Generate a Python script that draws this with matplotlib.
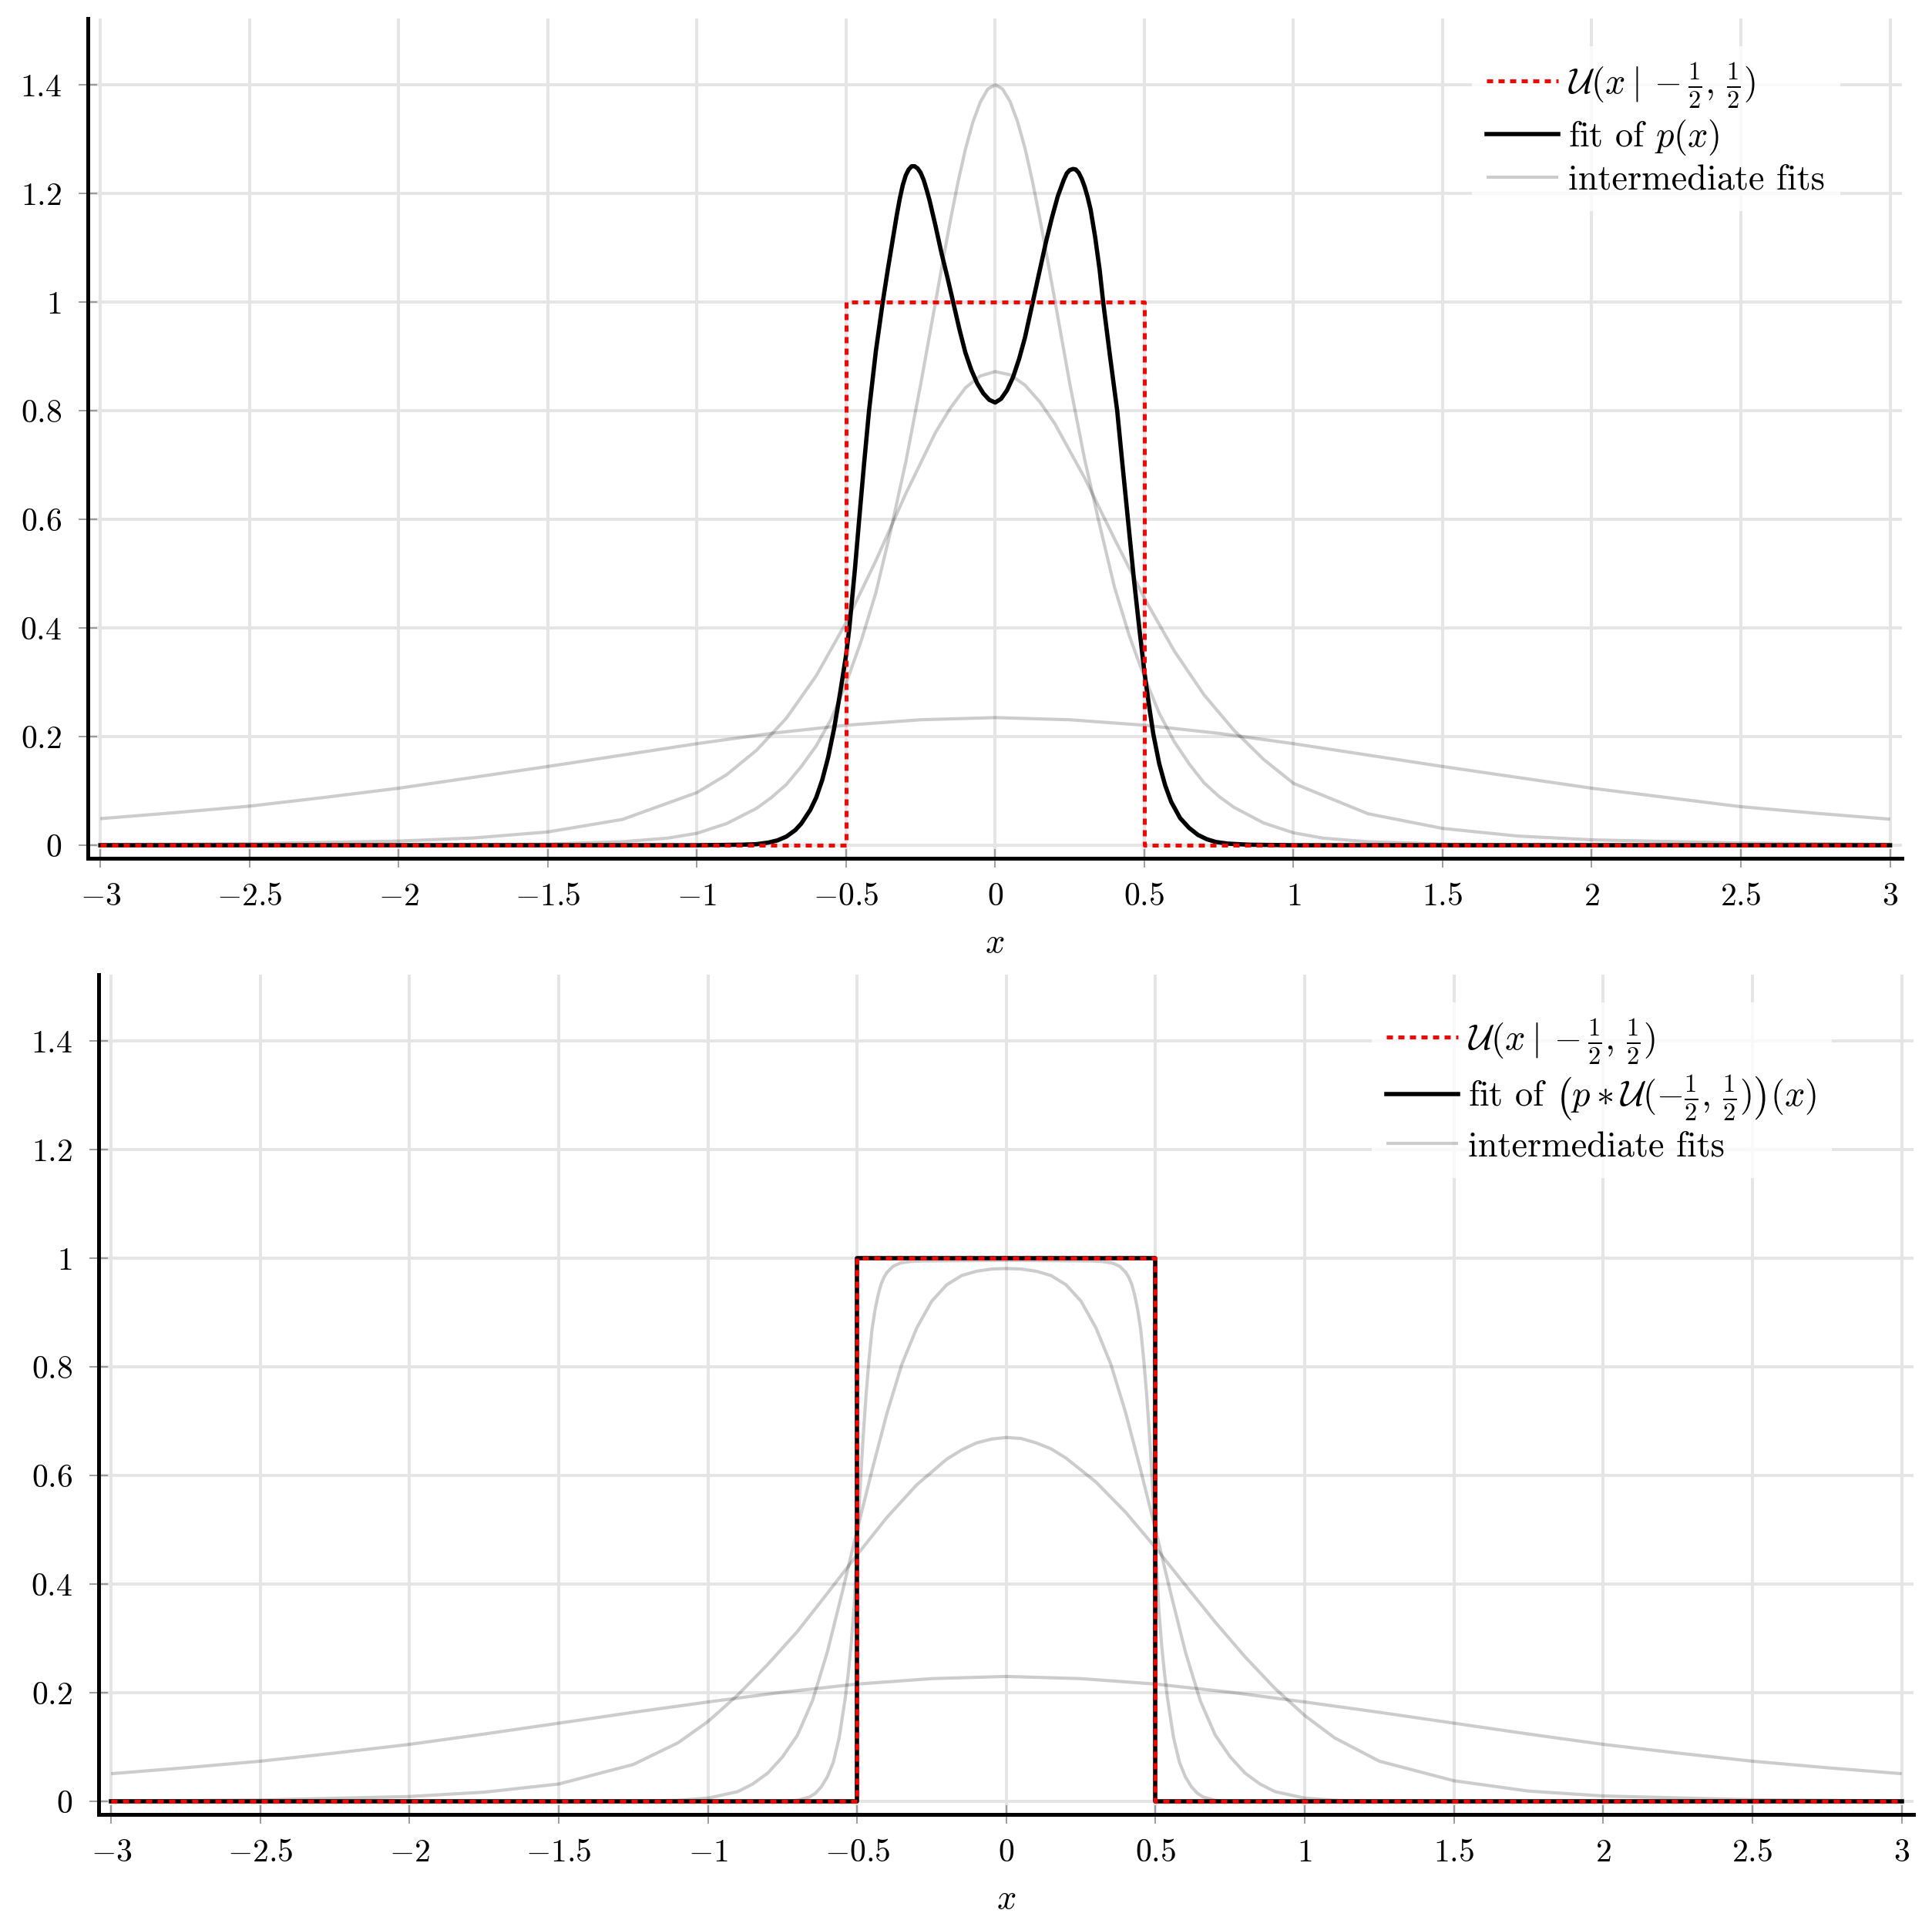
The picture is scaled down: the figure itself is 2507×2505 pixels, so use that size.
import matplotlib
matplotlib.use('Agg')
import matplotlib.pyplot as plt
from matplotlib.ticker import FuncFormatter

plt.rcParams['font.family'] = ['cmr10', 'DejaVu Serif']
plt.rcParams['mathtext.fontset'] = 'cm'
plt.rcParams['axes.unicode_minus'] = False
plt.rcParams['axes.formatter.use_mathtext'] = True

# ---------------- data ----------------
uniform_x = [-3.0, -0.5, -0.5, 0.5, 0.5, 3.0]
uniform_y = [0.0, 0.0, 1.0, 1.0, 0.0, 0.0]

# top panel: fit of p(x)
fit_top_x = [-3.0, -1.5, -1.0, -0.85, -0.8, -0.76, -0.73, -0.70, -0.67, -0.65, -0.62, -0.60,
             -0.58, -0.56, -0.54, -0.52, -0.50, -0.489, -0.47, -0.456, -0.44, -0.423, -0.40,
             -0.377, -0.36, -0.345, -0.33, -0.32, -0.31, -0.30, -0.29, -0.28, -0.27, -0.26,
             -0.25, -0.24, -0.23, -0.22, -0.20, -0.18, -0.16, -0.141, -0.12, -0.10, -0.08,
             -0.06, -0.04, -0.02, 0.0, 0.02, 0.04, 0.06, 0.08, 0.10, 0.126, 0.15, 0.17, 0.19,
             0.21, 0.22, 0.23, 0.24, 0.25, 0.261, 0.27, 0.28, 0.29, 0.30, 0.31, 0.32, 0.335,
             0.35, 0.362, 0.385, 0.409, 0.425, 0.445, 0.465, 0.483, 0.50, 0.515, 0.53, 0.55,
             0.57, 0.59, 0.62, 0.65, 0.68, 0.71, 0.74, 0.78, 0.85, 1.0, 1.5, 3.0]
fit_top_y = [0.0, 0.0, 0.0, 0.001, 0.002, 0.005, 0.009, 0.016, 0.028, 0.040, 0.065, 0.088,
             0.120, 0.162, 0.215, 0.280, 0.350, 0.400, 0.510, 0.600, 0.700, 0.800, 0.910,
             1.0, 1.06, 1.11, 1.16, 1.19, 1.215, 1.233, 1.244, 1.250, 1.250, 1.246,
             1.238, 1.225, 1.207, 1.187, 1.14, 1.09, 1.045, 1.0, 0.95, 0.907, 0.875,
             0.850, 0.832, 0.820, 0.815, 0.822, 0.838, 0.862, 0.895, 0.935, 1.0, 1.06, 1.11, 1.155,
             1.195, 1.21, 1.225, 1.237, 1.243, 1.245, 1.244, 1.238, 1.227, 1.212, 1.193, 1.17, 1.12,
             1.06, 1.0, 0.90, 0.80, 0.71, 0.60, 0.49, 0.40, 0.32, 0.26, 0.205, 0.150,
             0.110, 0.080, 0.050, 0.032, 0.019, 0.011, 0.006, 0.003, 0.001, 0.0, 0.0, 0.0]

# top panel: intermediate fits
inter_top_1_x = [-3.0, -2.75, -2.5, -2.25, -2.0, -1.75, -1.5, -1.25, -1.0, -0.75, -0.5, -0.25, 0.0,
                 0.25, 0.5, 0.75, 1.0, 1.25, 1.5, 1.75, 2.0, 2.25, 2.5, 2.75, 3.0]
inter_top_1_y = [0.049, 0.060, 0.072, 0.088, 0.105, 0.125, 0.145, 0.166, 0.187, 0.206, 0.221, 0.231, 0.235,
                 0.231, 0.221, 0.206, 0.187, 0.166, 0.145, 0.125, 0.105, 0.088, 0.071, 0.059, 0.048]

inter_top_2_x = [-3.0, -2.5, -2.0, -1.75, -1.5, -1.25, -1.0, -0.9, -0.8, -0.7, -0.6, -0.5, -0.4, -0.3,
                 -0.2, -0.15, -0.1, -0.05, 0.0, 0.05, 0.1, 0.15, 0.2, 0.3, 0.4, 0.5, 0.6, 0.7, 0.8,
                 0.9, 1.0, 1.25, 1.5, 1.75, 2.0, 2.5, 3.0]
inter_top_2_y = [0.0013, 0.0029, 0.0077, 0.0134, 0.0245, 0.0475, 0.097, 0.130, 0.175, 0.234, 0.312, 0.41, 0.524, 0.647,
                 0.760, 0.805, 0.842, 0.864, 0.872, 0.866, 0.847, 0.816, 0.776, 0.676, 0.564, 0.455, 0.358, 0.277, 0.212,
                 0.158, 0.114, 0.058, 0.031, 0.017, 0.010, 0.004, 0.0018]

inter_top_3_x = [-3.0, -2.5, -2.0, -1.75, -1.5, -1.25, -1.1, -1.0, -0.9, -0.8, -0.75, -0.7, -0.65, -0.6,
                 -0.55, -0.5, -0.45, -0.4, -0.35, -0.3, -0.25, -0.2, -0.175, -0.15, -0.125, -0.1, -0.075,
                 -0.05, -0.025, 0.0, 0.025, 0.05, 0.075, 0.1, 0.125, 0.15, 0.175, 0.2, 0.25, 0.3, 0.35,
                 0.4, 0.45, 0.5, 0.55, 0.6, 0.65, 0.7, 0.75, 0.8, 0.9, 1.0, 1.1, 1.25, 1.5, 1.75, 2.0, 2.5, 3.0]
inter_top_3_y = [0.0, 0.0001, 0.0005, 0.001, 0.0022, 0.0065, 0.013, 0.022, 0.040, 0.068, 0.088, 0.112, 0.145, 0.183,
                 0.232, 0.298, 0.375, 0.465, 0.580, 0.705, 0.848, 1.0, 1.077, 1.151, 1.220, 1.281, 1.331,
                 1.368, 1.392, 1.400, 1.392, 1.369, 1.332, 1.283, 1.222, 1.153, 1.079, 1.003, 0.850, 0.710, 0.590,
                 0.475, 0.385, 0.310, 0.243, 0.191, 0.150, 0.115, 0.090, 0.070, 0.041, 0.023, 0.013, 0.0065, 0.0022,
                 0.001, 0.0005, 0.0001, 0.0]

# bottom panel: fit of (p * U)(x)
fit_bot_x = [-3.0, -0.5, -0.5, 0.5, 0.5, 3.0]
fit_bot_y = [0.0, 0.0, 1.0, 1.0, 0.0, 0.0]

# bottom panel: intermediate fits
inter_bot_1_x = [-3.0, -2.75, -2.5, -2.25, -2.0, -1.75, -1.5, -1.25, -1.0, -0.75, -0.5, -0.25, 0.0,
                 0.25, 0.5, 0.75, 1.0, 1.25, 1.5, 1.75, 2.0, 2.25, 2.5, 2.75, 3.0]
inter_bot_1_y = [0.051, 0.062, 0.074, 0.089, 0.105, 0.124, 0.144, 0.164, 0.183, 0.201, 0.216, 0.226, 0.230,
                 0.226, 0.216, 0.201, 0.183, 0.164, 0.144, 0.124, 0.105, 0.089, 0.074, 0.062, 0.051]

inter_bot_2_x = [-3.0, -2.5, -2.0, -1.75, -1.5, -1.25, -1.1, -1.0, -0.9, -0.8, -0.7, -0.6, -0.5, -0.4,
                 -0.3, -0.2, -0.15, -0.1, -0.05, 0.0, 0.05, 0.1, 0.15, 0.2, 0.3, 0.4, 0.5, 0.6, 0.7, 0.8,
                 0.9, 1.0, 1.1, 1.25, 1.5, 1.75, 2.0, 2.5, 3.0]
inter_bot_2_y = [0.0008, 0.0025, 0.009, 0.017, 0.032, 0.068, 0.108, 0.147, 0.196, 0.252, 0.313, 0.383, 0.454, 0.523,
                 0.583, 0.630, 0.647, 0.660, 0.667, 0.670, 0.668, 0.660, 0.649, 0.632, 0.588, 0.532, 0.467, 0.398,
                 0.330, 0.266, 0.208, 0.158, 0.117, 0.074, 0.038, 0.019, 0.010, 0.003, 0.001]

inter_bot_3_x = [-3.0, -1.25, -1.1, -1.0, -0.9, -0.85, -0.8, -0.75, -0.7, -0.65, -0.6, -0.55, -0.5, -0.45,
                 -0.4, -0.35, -0.3, -0.25, -0.2, -0.15, -0.1, -0.05, 0.0, 0.05, 0.1, 0.15, 0.2, 0.25, 0.3,
                 0.35, 0.4, 0.45, 0.5, 0.55, 0.6, 0.65, 0.7, 0.75, 0.8, 0.85, 0.9, 1.0, 1.1, 1.25, 3.0]
inter_bot_3_y = [0.0, 0.0005, 0.002, 0.006, 0.018, 0.032, 0.052, 0.082, 0.122, 0.185, 0.275, 0.385, 0.500, 0.610,
                 0.715, 0.805, 0.872, 0.921, 0.951, 0.968, 0.976, 0.980, 0.981, 0.980, 0.976, 0.968, 0.951, 0.921, 0.872,
                 0.805, 0.715, 0.610, 0.500, 0.385, 0.275, 0.185, 0.122, 0.082, 0.052, 0.032, 0.018, 0.006, 0.002, 0.0005, 0.0]

inter_bot_4_x = [-3.0, -0.75, -0.7, -0.66, -0.64, -0.62, -0.6, -0.58, -0.56, -0.54, -0.53, -0.52, -0.51, -0.5,
                 -0.49, -0.48, -0.47, -0.46, -0.45, -0.44, -0.43, -0.42, -0.41, -0.40, -0.38, -0.356, -0.32,
                 -0.28, 0.0, 0.28, 0.32, 0.356, 0.38, 0.40, 0.41, 0.42, 0.43, 0.44, 0.45, 0.46, 0.47, 0.48,
                 0.49, 0.5, 0.51, 0.52, 0.53, 0.54, 0.56, 0.58, 0.6, 0.62, 0.64, 0.66, 0.7, 0.75, 3.0]
inter_bot_4_y = [0.0, 0.0, 0.002, 0.008, 0.015, 0.027, 0.045, 0.072, 0.118, 0.190, 0.235, 0.290, 0.360, 0.470,
                 0.580, 0.670, 0.750, 0.815, 0.870, 0.905, 0.932, 0.952, 0.965, 0.974, 0.985, 0.991, 0.994,
                 0.995, 0.996, 0.995, 0.994, 0.991, 0.985, 0.974, 0.965, 0.952, 0.932, 0.905, 0.870, 0.815, 0.750, 0.670,
                 0.580, 0.470, 0.360, 0.290, 0.235, 0.190, 0.118, 0.072, 0.045, 0.027, 0.015, 0.008, 0.002, 0.0, 0.0]

x_ticks = [-3, -2.5, -2, -1.5, -1, -0.5, 0, 0.5, 1, 1.5, 2, 2.5, 3]
y_ticks = [0, 0.2, 0.4, 0.6, 0.8, 1.0, 1.2, 1.4]

label_uniform = r'$\mathcal{U}(x \mid -\frac{1}{2},\,\frac{1}{2})$'
label_fit_top = r'fit of $p(x)$'
label_fit_bot = r'fit of $\left(p \ast \mathcal{U}(-\frac{1}{2},\,\frac{1}{2})\right)(x)$'
label_inter = 'intermediate fits'

# ---------------- figure ----------------
W, H = 2507, 2505
DPI = 200
fig = plt.figure(figsize=(W / DPI, H / DPI), dpi=DPI)


def px_axes(l, t, r, b):
    return fig.add_axes([l / W, 1 - b / H, (r - l) / W, (b - t) / H])


def fmt(v, pos):
    v = round(v, 6)
    if v == 0:
        v = 0.0
    return r'$%g$' % v


def style(ax):
    ax.set_xlim(-3.042, 3.040)
    ax.set_ylim(-0.024, 1.522)
    ax.set_xticks(x_ticks)
    ax.set_yticks(y_ticks)
    ax.xaxis.set_major_formatter(FuncFormatter(fmt))
    ax.yaxis.set_major_formatter(FuncFormatter(fmt))
    ax.tick_params(direction='inout', length=8.5, width=0.6, color='#8c8c8c',
                   labelsize=15, labelcolor='black')
    ax.tick_params(axis='x', pad=7)
    ax.tick_params(axis='y', pad=8)
    for s in ('top', 'right'):
        ax.spines[s].set_visible(False)
    for s in ('left', 'bottom'):
        ax.spines[s].set_linewidth(1.8)
        ax.spines[s].set_color('black')
    ax.grid(True, color='#e5e5e5', lw=1.45)
    ax.set_axisbelow(True)
    ax.set_xlabel(r'$x$', fontsize=16, labelpad=8)


GRAY = dict(color='black', alpha=0.2, lw=1.5, solid_capstyle='butt', solid_joinstyle='round')
RED = dict(color='#ff0000', lw=1.8, linestyle=(0, (1.6, 1.4)))
BLACK = dict(color='black', lw=2.0, solid_joinstyle='round')
LEG = dict(loc='upper left', bbox_transform=fig.transFigure, borderaxespad=0, frameon=True,
           framealpha=0.8, edgecolor='none', fancybox=False, fontsize=16.7, handlelength=2.0,
           handletextpad=0.28, borderpad=0.42, labelspacing=0.2)

# ---- top ----
ax1 = px_axes(114, 24, 2468, 1114)
style(ax1)
g1, = ax1.plot(inter_top_1_x, inter_top_1_y, **GRAY, label=label_inter)
ax1.plot(inter_top_2_x, inter_top_2_y, **GRAY)
ax1.plot(inter_top_3_x, inter_top_3_y, **GRAY)
b1, = ax1.plot(fit_top_x, fit_top_y, **BLACK, label=label_fit_top)
r1, = ax1.plot(uniform_x, uniform_y, **RED, label=label_uniform)
ax1.legend(handles=[r1, b1, g1], bbox_to_anchor=(1910 / W, 1 - 60 / H), **LEG)

# ---- bottom ----
ax2 = px_axes(128, 1265, 2483, 2355)
style(ax2)
g2, = ax2.plot(inter_bot_1_x, inter_bot_1_y, **GRAY, label=label_inter)
ax2.plot(inter_bot_2_x, inter_bot_2_y, **GRAY)
ax2.plot(inter_bot_3_x, inter_bot_3_y, **GRAY)
ax2.plot(inter_bot_4_x, inter_bot_4_y, **GRAY)
b2, = ax2.plot(fit_bot_x, fit_bot_y, **BLACK, label=label_fit_bot)
r2, = ax2.plot(uniform_x, uniform_y, **RED, label=label_uniform)
ax2.legend(handles=[r2, b2, g2], bbox_to_anchor=(1780 / W, 1 - 1301 / H), **LEG)

fig.savefig('out.png', dpi=DPI, facecolor='white')
